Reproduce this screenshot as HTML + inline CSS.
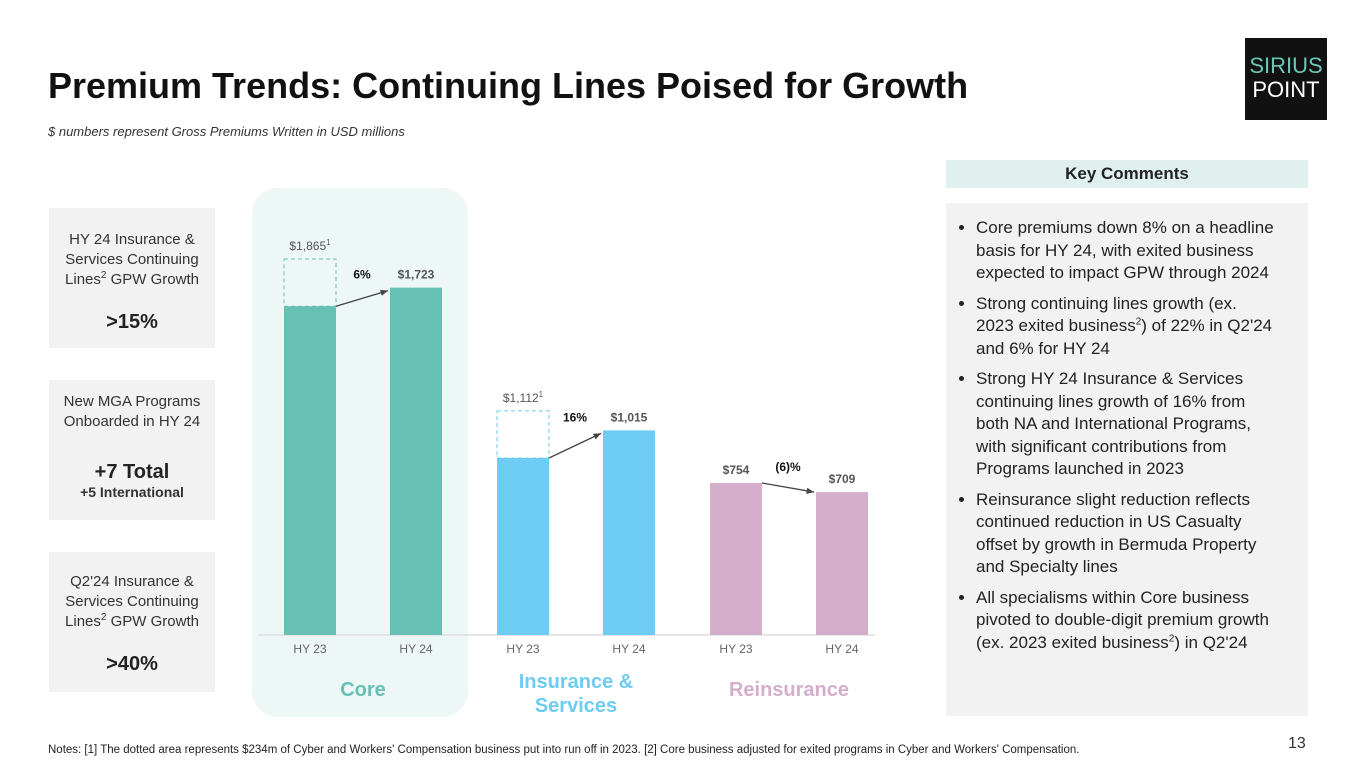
<!DOCTYPE html>
<html><head><meta charset="utf-8"><style>
body{margin:0;width:1365px;height:767px;background:#fff;font-family:"Liberation Sans",sans-serif;position:relative;overflow:hidden;color:#222}
.abs{position:absolute}
.box{position:absolute;left:49px;width:166px;background:#f2f2f2;text-align:center;color:#333;font-size:15px;line-height:20px}
.box b{display:block;font-size:20px;color:#222}
sup{line-height:0;font-size:10px}
ul{margin:0;padding:0 0 0 16px}
li{font-size:17px;line-height:22.5px;color:#222;margin-bottom:8px}
</style></head><body>
<div class="abs" style="left:48px;top:65px;font-size:36px;font-weight:bold;color:#111">Premium Trends: Continuing Lines Poised for Growth</div>
<div class="abs" style="left:48px;top:124px;font-size:13px;font-style:italic;color:#333">$ numbers represent Gross Premiums Written in USD millions</div>
<div class="abs" style="left:1245px;top:38px;width:82px;height:82px;background:#111;text-align:center;font-size:22px;line-height:24px;padding-top:16px;box-sizing:border-box"><span style="color:#6cc7b8">SIRIUS</span><br><span style="color:#fff">POINT</span></div>

<div class="box" style="top:208px;height:140px;padding-top:22px;box-sizing:border-box">HY 24 Insurance &amp;<br>Services Continuing<br>Lines<sup>2</sup> GPW Growth<b style="margin-top:22px">&gt;15%</b></div>
<div class="box" style="top:380px;height:140px;padding-top:12px;box-sizing:border-box">New MGA Programs<br>Onboarded in HY 24<b style="margin-top:30px">+7 Total</b><span style="font-weight:bold;font-size:14px">+5 International</span></div>
<div class="box" style="top:552px;height:140px;padding-top:20px;box-sizing:border-box">Q2'24 Insurance &amp;<br>Services Continuing<br>Lines<sup>2</sup> GPW Growth<b style="margin-top:22px">&gt;40%</b></div>

<svg class="abs" style="left:0;top:0" width="1365" height="767">
<rect x="252" y="188" width="216" height="529" rx="26" fill="#edf7f5"/>
<line x1="258" y1="635" x2="875" y2="635" stroke="#ddd" stroke-width="1.5"/>
<g id="bars"></g>
</svg>

<div class="abs" style="left:946px;top:160px;width:362px;height:28px;background:#dff0ee;text-align:center;font-weight:bold;font-size:17px;line-height:28px">Key Comments</div>
<div class="abs" style="left:946px;top:203px;width:362px;height:513px;background:#f2f2f2;padding:14px 34px 0 14px;box-sizing:border-box">
<ul>
<li>Core premiums down 8% on a headline basis for HY 24, with exited business expected to impact GPW through 2024</li>
<li>Strong continuing lines growth (ex. 2023 exited business<sup>2</sup>) of 22% in Q2'24 and 6% for HY 24</li>
<li>Strong HY 24 Insurance &amp; Services continuing lines growth of 16% from both NA and International Programs, with significant contributions from Programs launched in 2023</li>
<li>Reinsurance slight reduction reflects continued reduction in US Casualty offset by growth in Bermuda Property and Specialty lines</li>
<li>All specialisms within Core business pivoted to double-digit premium growth (ex. 2023 exited business<sup>2</sup>) in Q2'24</li>
</ul></div>
<div class="abs" style="left:48px;top:744px;font-size:11.5px;color:#222">Notes: [1] The dotted area represents $234m of Cyber and Workers' Compensation business put into run off in 2023. [2] Core business adjusted for exited programs in Cyber and Workers' Compensation.</div>
<div class="abs" style="left:1288px;top:735px;font-size:16px;color:#333">13</div>

<script>
const groups=["Core","Insurance & Services","Reinsurance"];
const periods=["HY 23","HY 24"];
const solidHY23=[1631,878,754];
const headlineHY23=[1865,1112,754];
const valuesHY24=[1723,1015,709];
const growthLabels=["6%","16%","(6)%"];
const colors=["#66c1b4","#6ecbf2","#d5aecb"];
const labelColors=["#66c1b4","#6ecbf2","#d5aecb"];
const NS="http://www.w3.org/2000/svg";
const g=document.getElementById("bars");
const base=635, k=0.2016;
const y=v=>base-v*k;
const xBar=(gi,pi)=>284+gi*213+pi*106;
const W=52;
function mk(t,a,txt){const e=document.createElementNS(NS,t);for(const n in a)e.setAttribute(n,a[n]);if(txt!==undefined)e.textContent=txt;g.appendChild(e);return e;}
function fmt(v){return "$"+v.toLocaleString("en-US");}
groups.forEach((gr,i)=>{
 const x0=xBar(i,0),x1=xBar(i,1);
 let e=mk("rect",{x:x0,y:y(solidHY23[i]),width:W,height:solidHY23[i]*k,fill:colors[i]});
 
 
 e=mk("rect",{x:x1,y:y(valuesHY24[i]),width:W,height:valuesHY24[i]*k,fill:colors[i]});
 
 
 const dashed=headlineHY23[i]>solidHY23[i];
 if(dashed){
  e=mk("rect",{x:x0,y:y(headlineHY23[i]),width:W,height:(headlineHY23[i]-solidHY23[i])*k,fill:"none",stroke:colors[i],"stroke-dasharray":"4,3"});
  
  
 }
 e=mk("text",{x:x0+W/2,y:y(headlineHY23[i])-9,"text-anchor":"middle","font-size":12,fill:"#555","font-weight":dashed?"normal":"bold"},fmt(headlineHY23[i]));
 if(dashed){const s=document.createElementNS(NS,"tspan");s.setAttribute("dy","-5");s.setAttribute("font-size","8");s.textContent="1";e.appendChild(s);}
 
 
 e=mk("text",{x:x1+W/2,y:y(valuesHY24[i])-9,"text-anchor":"middle","font-size":12,fill:"#555","font-weight":"bold"},fmt(valuesHY24[i]));
 
 
 const ax=x0+W, ay=y(solidHY23[i]), bx=x1-2, by=y(valuesHY24[i])+(valuesHY24[i]<solidHY23[i]?0:3);
 e=mk("line",{x1:ax,y1:ay,x2:bx,y2:by,stroke:"#444","stroke-width":1.3});
 
 
 const ang=Math.atan2(by-ay,bx-ax);
 const p=[[bx,by],[bx-8*Math.cos(ang-0.4),by-8*Math.sin(ang-0.4)],[bx-8*Math.cos(ang+0.4),by-8*Math.sin(ang+0.4)]];
 e=mk("polygon",{points:p.map(q=>q.join(",")).join(" "),fill:"#444"});
 
 
 e=mk("text",{x:(ax+bx)/2,y:Math.min(ay,by)-12,"text-anchor":"middle","font-size":12,"font-weight":"bold",fill:"#111"},growthLabels[i]);
 
 
 periods.forEach((p2,pi)=>{
  e=mk("text",{x:xBar(i,pi)+W/2,y:653,"text-anchor":"middle","font-size":12,fill:"#666"},p2);
  
  
 });
 const cx=(x0+x1+W)/2;
 const words=gr==="Insurance & Services"?["Insurance &","Services"]:[gr];
 words.forEach((w,wi)=>{
  e=mk("text",{x:cx,y:(words.length>1?688:696)+wi*24,"text-anchor":"middle","font-size":20,"font-weight":"bold",fill:labelColors[i]},w);
  
  
 });
});
</script>
</body></html>
